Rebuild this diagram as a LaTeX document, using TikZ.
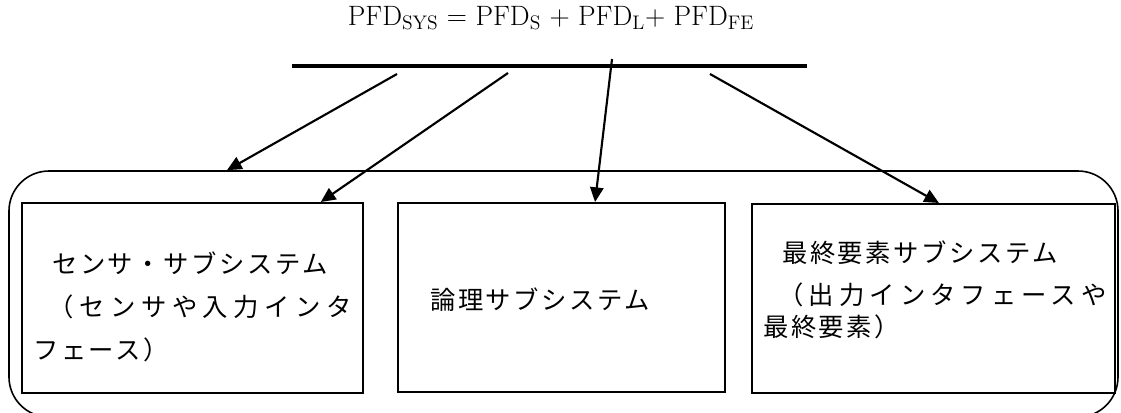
\documentclass[tikz,border=0pt]{standalone}
\usepackage{fontspec}
\newfontfamily\jpfont[LetterSpace=10]{Noto Sans CJK JP}
\newcommand\wideline[2][19]{{\addfontfeature{LetterSpace=#1}#2}}
\usetikzlibrary{arrows.meta,calc}

\begin{document}
\begin{tikzpicture}[x=0.75pt, y=-0.75pt, >={Triangle[length=11pt,width=10pt]},
    subbox/.style={draw, line width=1.5pt, rectangle, inner sep=0pt},
    jptext/.style={font=\jpfont\fontsize{19}{32}\selectfont, align=left, inner sep=0pt, anchor=west},
    link/.style={->, line width=1.6pt}]
    \useasboundingbox (0,0) rectangle (1121,412);
    % formula and bar
    \node[font=\fontsize{21}{25}\selectfont, anchor=base, inner sep=0pt] (pfd) at (551,25)
        {PFD\textsubscript{SYS} = PFD\textsubscript{S} + PFD\textsubscript{L}+ PFD\textsubscript{FE}};
    \coordinate (barL) at (292,66);
    \coordinate (barR) at (807,66);
    \draw[line width=2.6pt] (barL) -- (barR);
    % outer frame and subsystems
    \node[draw, line width=1.2pt, rounded corners=30pt, minimum width=831.75pt, minimum height=184.5pt] (frame) at (563.5,294) {};
    \node[subbox, minimum width=255.75pt, minimum height=142.5pt] (sens) at (192.5,298) {};
    \node[subbox, minimum width=245.25pt, minimum height=141.75pt] (logic) at (561.5,297.5) {};
    \node[subbox, minimum width=272.25pt, minimum height=141.75pt] (final) at (933.5,298.5) {};
    \node[jptext] (sensT) at (33,307) {\hspace{0.75em}センサ・サブシステム\\\hspace{0.6em}\wideline[22]{（センサや入力インタ}\\フェース）};
    \node[jptext] (logicT) at (430,300) {論理サブシステム};
    \node[jptext] (finalT) at (763,290) {\hspace{0.75em}最終要素サブシステム\\\hspace{0.6em}\wideline[20]{（出力インタフェースや}\\[-8pt]最終要素）};
    % arrows from the bar
    \coordinate (a1) at (397,74);
    \coordinate (a2) at (508,73);
    \coordinate (a3) at (612,59);
    \coordinate (a4) at (710,74);
    \draw[link] (a1) -- ($(frame.north west)!0.197!(frame.north east)$);
    \draw[link] (a2) -- ($(sens.north west)!0.874!(sens.north east)$);
    \draw[link] (a3) -- ($(logic.north west)!0.602!(logic.north east)$);
    \draw[link] (a4) -- ($(final.north west)!0.515!(final.north east)$);
\end{tikzpicture}
\end{document}
